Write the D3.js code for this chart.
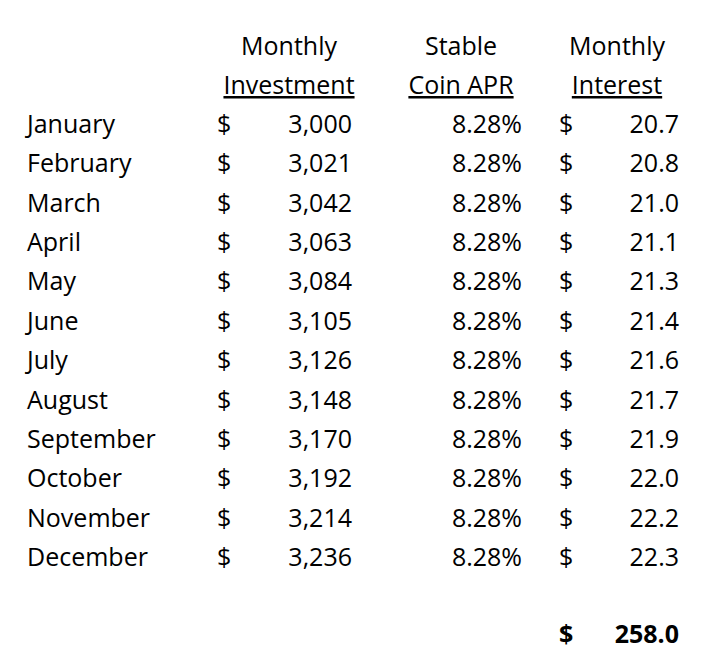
<!DOCTYPE html>
<html><head><meta charset="utf-8">
<script src="https://cdn.jsdelivr.net/npm/d3@7"></script>
<style>body{margin:0;background:#fff}text{font-family:"Open Sans",Arial,sans-serif;font-size:25px;fill:#000}</style>
</head><body>
<svg width="701" height="660"></svg>
<script>
var months=["January","February","March","April","May","June","July","August","September","October","November","December"];
var investment=[3000,3021,3042,3063,3084,3105,3126,3148,3170,3192,3214,3236];
var apr=[8.28,8.28,8.28,8.28,8.28,8.28,8.28,8.28,8.28,8.28,8.28,8.28];
var interest=[20.7,20.8,21.0,21.1,21.3,21.4,21.6,21.7,21.9,22.0,22.2,22.3];
var total=258.0;
var headers=[{l1:"Monthly",l2:"Investment",x:289},{l1:"Stable",l2:"Coin APR",x:461},{l1:"Monthly",l2:"Interest",x:617}];

var svg=d3.select("svg");
var y=d3.scaleLinear().domain([0,11]).range([133,566]);

var h=svg.selectAll("g.h").data(headers).enter().append("g");
h.append("text").attr("x",d=>d.x).attr("y",55).attr("text-anchor","middle").text(d=>d.l1);
h.append("text").attr("x",d=>d.x).attr("y",94).attr("text-anchor","middle").attr("text-decoration","underline").text(d=>d.l2);

var rows=svg.selectAll("g.r").data(months).enter().append("g").attr("transform",(d,i)=>"translate(0,"+y(i)+")");
rows.append("text").attr("x",27).text(d=>d);
rows.append("text").attr("x",217).text("$");
rows.append("text").attr("x",352).attr("text-anchor","end").text((d,i)=>d3.format(",")(investment[i]));
rows.append("text").attr("x",522).attr("text-anchor","end").text((d,i)=>apr[i].toFixed(2)+"%");
rows.append("text").attr("x",559).text("$");
rows.append("text").attr("x",679).attr("text-anchor","end").text((d,i)=>interest[i].toFixed(1));

svg.append("text").attr("x",559).attr("y",643).attr("font-weight","bold").text("$");
svg.append("text").attr("x",679).attr("y",643).attr("text-anchor","end").attr("font-weight","bold").text(total.toFixed(1));
</script>
</body></html>
